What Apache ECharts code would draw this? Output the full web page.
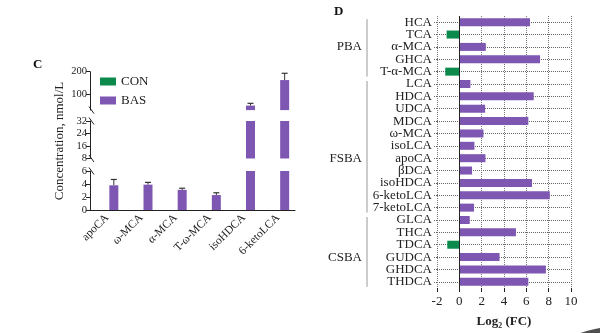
<!DOCTYPE html>
<html>
<head>
<meta charset="utf-8">
<script src="https://cdn.jsdelivr.net/npm/echarts@6/dist/echarts.min.js"></script>
<style>html,body{margin:0;padding:0;background:#fff}#c{width:600px;height:333px}</style>
</head>
<body>
<div id="c"></div>
<script>
// ---- Panel C data ----
const catsC = ['apoCA', 'ω-MCA', 'α-MCA', 'T-ω-MCA', 'isoHDCA', '6-ketoLCA'];
const conValues = [0, 0, 0, 0, 0, 0];
const basValues = [3.8, 3.9, 3.1, 2.3, 50, 163];
const basErrors = [0.9, 0.35, 0.25, 0.35, 10, 30];
const segLow = [0, 6];      // bottom segment range
const segMid = [8, 32];     // middle segment range
const segTop = [30, 200];   // top segment range
const topTicks = [100, 200];

// ---- Panel D data ----
const catsD = ['HCA','TCA','α-MCA','GHCA','T-α-MCA','LCA','HDCA','UDCA','MDCA','ω-MCA','isoLCA','apoCA','βDCA','isoHDCA','6-ketoLCA','7-ketoLCA','GLCA','THCA','TDCA','GUDCA','GHDCA','THDCA'];
const log2FC = [6.33,-1.14,2.37,7.23,-1.26,0.99,6.66,2.31,6.18,2.16,1.35,2.34,1.14,6.51,8.1,1.32,0.93,5.07,-1.08,3.6,7.75,6.18];
const groups = [
  {name: 'PBA', first: 'HCA', last: 'T-α-MCA', at: 'α-MCA'},
  {name: 'FSBA', first: 'LCA', last: '7-ketoLCA', at: 'apoCA'},
  {name: 'CSBA', first: 'GLCA', last: 'THDCA', at: 'GUDCA'}
];

const PURPLE = '#7D57B2';
const GREEN = '#0B8A4C';
const SERIF = 'Liberation Serif';
const BW = 9, GAP = 0.5;
const OFF = (BW + BW * GAP) / 2;

const chart = echarts.init(document.getElementById('c'));

const gridsC = [
  {left: 90, width: 205, top: 171, height: 39},
  {left: 90, width: 205, top: 121, height: 37.5},
  {left: 90, width: 205, top: 71.7, height: 38.4}
];
const ranges = [segLow, segMid, segTop];

const xAxes = [], yAxes = [], series = [];
for (let i = 0; i < 3; i++) {
  xAxes.push({
    gridIndex: i, type: 'category', data: catsC, show: i === 0,
    axisLine: {lineStyle: {color: '#222', width: 1}},
    axisTick: {alignWithLabel: true, length: 5, lineStyle: {color: '#222'}},
    axisLabel: {rotate: 45, interval: 0, fontFamily: SERIF, fontSize: 11.5, color: '#222', margin: 6}
  });
  const ya = {
    gridIndex: i, type: 'value', min: ranges[i][0], max: ranges[i][1],
    axisLine: {show: true, lineStyle: {color: '#222', width: 1}},
    axisTick: {show: true, length: 4, lineStyle: {color: '#222'}},
    axisLabel: {fontFamily: SERIF, fontSize: 10.5, color: '#222', margin: 3, hideOverlap: false},
    splitLine: {show: false}
  };
  if (i === 0) ya.interval = 2;
  if (i === 1) ya.interval = 8;
  if (i === 2) {
    ya.axisLabel.customValues = topTicks;
    ya.axisTick.customValues = topTicks;
  }
  yAxes.push(ya);
  series.push({
    name: 'CON', type: 'bar', xAxisIndex: i, yAxisIndex: i, data: conValues,
    barWidth: BW, barGap: (GAP * 100) + '%', itemStyle: {color: GREEN}, silent: true
  });
  series.push({
    name: 'BAS', type: 'bar', xAxisIndex: i, yAxisIndex: i, data: basValues,
    barWidth: BW, barGap: (GAP * 100) + '%', itemStyle: {color: PURPLE}, silent: true
  });
  const lo = ranges[i][0], hi = ranges[i][1];
  series.push({
    type: 'custom', xAxisIndex: i, yAxisIndex: i, silent: true,
    encode: {x: 0, y: 1},
    data: basValues.map((v, k) => [k, v, basErrors[k]]),
    renderItem: function (params, api) {
      const v = api.value(1), e = api.value(2);
      if (v < lo || v > hi) return null;
      const p = api.coord([api.value(0), v]);
      const q = api.coord([api.value(0), v + e]);
      const x = p[0] + OFF;
      return {type: 'group', children: [
        {type: 'line', shape: {x1: x, y1: p[1], x2: x, y2: q[1]}, style: {stroke: '#333', lineWidth: 1}},
        {type: 'line', shape: {x1: x - 3, y1: q[1], x2: x + 3, y2: q[1]}, style: {stroke: '#333', lineWidth: 1.2}}
      ]};
    }
  });
}

// Panel D axes
xAxes.push({
  gridIndex: 3, type: 'value', min: -2, max: 10, interval: 2,
  axisLine: {onZero: false, lineStyle: {color: '#222', width: 1}},
  axisTick: {show: true, length: 4, lineStyle: {color: '#222'}},
  axisLabel: {fontFamily: SERIF, fontSize: 13, color: '#222', margin: 7},
  splitLine: {show: true, lineStyle: {color: '#777', type: 'dotted', width: 1}},
  name: 'Log₂ (FC)', nameLocation: 'middle', nameGap: 27,
  nameTextStyle: {fontFamily: SERIF, fontSize: 13, fontWeight: 'bold', color: '#222'}
});
yAxes.push({
  gridIndex: 3, type: 'category', data: catsD, inverse: true,
  axisLine: {show: false, onZero: false},
  axisTick: {show: true, interval: 0, alignWithLabel: true, length: 4, lineStyle: {color: '#666', type: 'dotted'}},
  axisLabel: {interval: 0, fontFamily: SERIF, fontSize: 13, color: '#222', margin: 5},
  splitLine: {show: true, interval: 0, alignWithLabel: true, lineStyle: {color: '#666', type: 'dotted', width: 1}}
});
series.push({
  type: 'bar', xAxisIndex: 3, yAxisIndex: 3, data: log2FC, barWidth: 8, silent: true,
  itemStyle: {color: p => p.value < 0 ? GREEN : PURPLE},
  markLine: {
    silent: true, symbol: 'none', label: {show: false},
    lineStyle: {color: '#222', type: 'solid', width: 1},
    data: [{xAxis: 0}]
  }
});

chart.setOption({
  animation: false,
  grid: gridsC.concat([{left: 437, right: 29, top: 16, bottom: 43}]),
  xAxis: xAxes,
  yAxis: yAxes,
  legend: {
    data: ['CON', 'BAS'], orient: 'vertical', left: 95, top: 70,
    itemWidth: 16, itemHeight: 8, itemGap: 6, icon: 'rect',
    textStyle: {fontFamily: SERIF, fontSize: 13, color: '#222'}
  },
  series: series
});

// Decorations: panel letters, y title, axis-break marks, group brackets
const g = [];
g.push({type: 'text', left: 33, top: 58, style: {text: 'C', font: 'bold 13px ' + SERIF, fill: '#111'}});
g.push({type: 'text', left: 334, top: 5, style: {text: 'D', font: 'bold 13px ' + SERIF, fill: '#111'}});
g.push({type: 'text', x: 60, y: 141, rotation: Math.PI / 2,
  style: {text: 'Concentration, nmol/L', font: '13px ' + SERIF, fill: '#222', align: 'center', verticalAlign: 'middle'}});

const breakYs = [
  chart.convertToPixel({yAxisIndex: 0}, segLow[1]),
  chart.convertToPixel({yAxisIndex: 1}, segMid[0]),
  chart.convertToPixel({yAxisIndex: 1}, segMid[1]),
  chart.convertToPixel({yAxisIndex: 2}, segTop[0])
];
const gx = 90;
breakYs.forEach(y => {
  g.push({type: 'line', shape: {x1: gx - 1, y1: y - 3.5, x2: gx + 4, y2: y + 3.5}, style: {stroke: '#222', lineWidth: 1}});
});

groups.forEach(gr => {
  const y1 = chart.convertToPixel({yAxisIndex: 3}, gr.first) - 3;
  const y2 = chart.convertToPixel({yAxisIndex: 3}, gr.last) + 5;
  const ym = chart.convertToPixel({yAxisIndex: 3}, gr.at);
  g.push({type: 'line', shape: {x1: 367, y1: y1, x2: 367, y2: y2}, style: {stroke: '#999', lineWidth: 1}});
  g.push({type: 'text', x: 362, y: ym, style: {text: gr.name, font: '13px ' + SERIF, fill: '#222', align: 'right', verticalAlign: 'middle'}});
});
g.push({type: 'circle', shape: {cx: 615, cy: 430, r: 103}, style: {fill: '#505050'}});

chart.setOption({graphic: g});
</script>
</body>
</html>
